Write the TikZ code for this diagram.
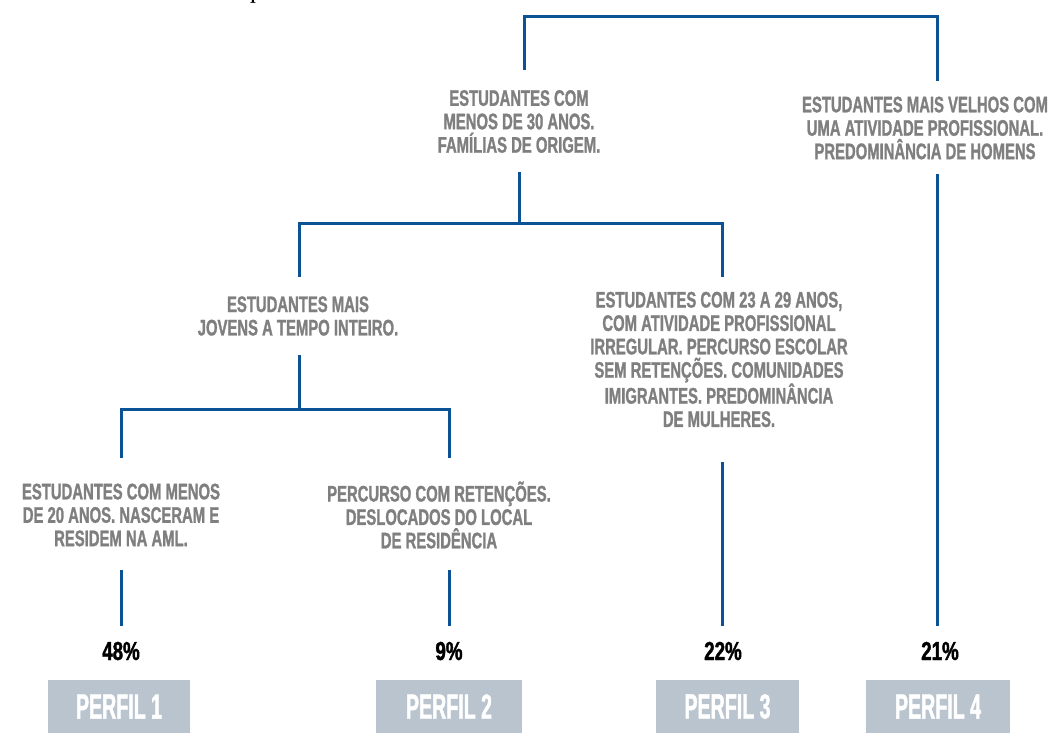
\documentclass[tikz,border=0pt]{standalone}
\usepackage{fontspec}
\newfontfamily\condtext[FakeStretch=0.66,FakeBold=1.2]{Liberation Sans}
\newfontfamily\condpct[FakeStretch=0.72,FakeBold=1.5]{Liberation Sans}
\newfontfamily\condprof[FakeStretch=0.56,FakeBold=1.2]{Liberation Sans}
\definecolor{lineblue}{HTML}{0B5394}
\definecolor{txtgray}{HTML}{7F7F7F}
\definecolor{boxgray}{HTML}{B9C4CF}
\tikzset{
  desc/.style={align=center, inner sep=0pt, text=txtgray,
    font=\condtext\bfseries\fontsize{22.5}{23.4}\selectfont},
  pct/.style={inner sep=0pt, anchor=base, text=black,
    font=\condpct\bfseries\fontsize{26}{26}\selectfont},
  profbox/.style={fill=boxgray, inner sep=0pt, minimum height=53pt, text=white,
    font=\condprof\bfseries\fontsize{35}{35}\selectfont},
  link/.style={draw=lineblue, line width=3pt, line cap=rect}
}
\begin{document}
\begin{tikzpicture}[x=1pt,y=-1pt]
\useasboundingbox (0,0) rectangle (1051,733);
% cut-off fragment at top
\node[inner sep=0pt, anchor=base] (frag) at (256,0) {\fontsize{20}{20}\selectfont\bfseries p};

% text nodes
\node[desc] (root) at (519,121.5) {ESTUDANTES COM\\MENOS DE 30 ANOS.\\FAMÍLIAS DE ORIGEM.};
\node[desc] (old) at (925,128) {ESTUDANTES MAIS VELHOS COM\\UMA ATIVIDADE PROFISSIONAL.\\PREDOMINÂNCIA DE HOMENS};
\node[desc] (young) at (298,316) {ESTUDANTES MAIS\\JOVENS A TEMPO INTEIRO.};
\node[desc] (mid) at (719,359.5) {ESTUDANTES COM 23 A 29 ANOS,\\COM ATIVIDADE PROFISSIONAL\\IRREGULAR. PERCURSO ESCOLAR\\SEM RETENÇÕES. COMUNIDADES\\IMIGRANTES. PREDOMINÂNCIA\\DE MULHERES.};
\node[desc] (yl) at (121,515) {ESTUDANTES COM MENOS\\DE 20 ANOS. NASCERAM E\\RESIDEM NA AML.};
\node[desc] (yr) at (439,515) {PERCURSO COM RETENÇÕES.\\DESLOCADOS DO LOCAL\\DE RESIDÊNCIA};

% percentages
\node[pct] (p1) at (121,660) {48\%};
\node[pct] (p2) at (449,660) {9\%};
\node[pct] (p3) at (723,660) {22\%};
\node[pct] (p4) at (940,660) {21\%};

% profile boxes
\node[profbox, minimum width=142pt] (b1) at (119,706.5) {PERFIL 1};
\node[profbox, minimum width=146pt] (b2) at (449,706.5) {PERFIL 2};
\node[profbox, minimum width=143pt] (b3) at (727.5,706.5) {PERFIL 3};
\node[profbox, minimum width=144pt] (b4) at (938,706.5) {PERFIL 4};

% junction / stub coordinates
\coordinate (rootin) at (524,69);
\coordinate (oldin) at (937,80);
\coordinate (rootout) at (519,173);
\coordinate (rootbar) at (519,223);
\coordinate (youngin) at (299,275);
\coordinate (midin) at (722,275);
\coordinate (youngout) at (299,356);
\coordinate (youngbar) at (299,409);
\coordinate (ylin) at (121,456);
\coordinate (yrin) at (449,456);
\coordinate (ylout) at (121,571);
\coordinate (yrout) at (449,571);
\coordinate (midout) at (722,463);
\coordinate (oldout) at (937,175);
\coordinate (p1in) at (121,624);
\coordinate (p2in) at (449,624);
\coordinate (p3in) at (722,624);
\coordinate (p4in) at (937,624);

% connectors
\draw[link] (rootin) |- (524,17) -| (oldin);
\draw[link] (rootout) -- (rootbar);
\draw[link] (youngin) |- (rootbar) -| (midin);
\draw[link] (youngout) -- (youngbar);
\draw[link] (ylin) |- (youngbar) -| (yrin);
\draw[link] (ylout) -- (p1in);
\draw[link] (yrout) -- (p2in);
\draw[link] (midout) -- (p3in);
\draw[link] (oldout) -- (p4in);
\end{tikzpicture}
\end{document}
